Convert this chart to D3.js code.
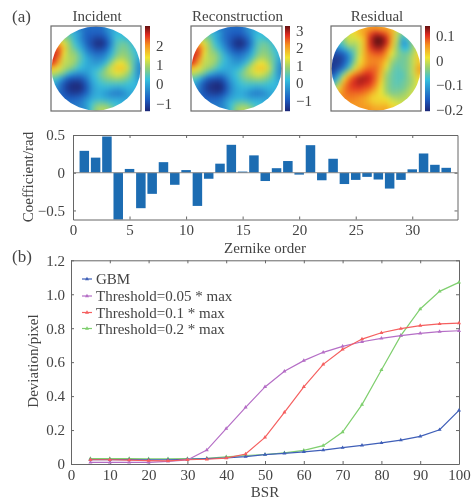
<!DOCTYPE html>
<html><head><meta charset="utf-8">
<script src="https://cdn.jsdelivr.net/npm/d3@7"></script>
<style>html,body{margin:0;padding:0;background:#fff}svg{display:block;filter:blur(.35px)}
text{font-family:"Liberation Serif",serif;fill:#444}</style></head><body>
<script>
const incidentGrid=[
[-.3,-.3,-.3,-.4,-.4,-.5,-.6,-.7,-.7,-.7,-.3,-.1,0,0,0,0,0],
[.8,.8,.6,.4,.1,-.2,-.7,-.8,-.8,-.8,-.5,-.1,.2,.2,.1,0,0],
[1.5,1.2,.8,.6,.1,-.3,-.7,-.9,-1.1,-1.1,-.8,-.2,.3,.3,.1,.1,0],
[2,1.8,1.3,.8,.3,-.1,-.6,-1,-1.3,-1.4,-1,-.3,.4,.6,.5,.1,.1],
[2.3,2.3,1.6,.9,.5,.1,-.4,-.8,-1.1,-1.1,-.8,-.1,.5,.7,.6,.3,.1],
[2.6,2.4,1.4,.9,.8,.4,-.1,-.5,-.7,-.7,-.4,.1,.6,.8,.7,.4,.1],
[2.6,2.1,1.2,1,.9,.5,.1,-.2,-.4,-.4,-.1,.4,.9,1,.8,.5,0],
[2.4,1.8,1.1,1,.8,.4,.1,-.1,-.2,-.1,.3,.9,1.3,1.4,1,.5,-.2],
[1.6,1.3,1,.8,.5,.2,0,0,.1,.3,.8,1.2,1.6,1.6,1.2,.5,-.3],
[1.1,.9,.6,.1,-.2,-.3,-.2,0,.3,.6,.9,1.1,1.3,1.2,.9,.4,-.3],
[.5,.2,-.4,-.8,-.9,-.9,-.6,-.1,.2,.5,.7,.8,.9,.8,.6,.3,-.2],
[.1,-.4,-.9,-1.2,-1.35,-1.3,-.9,-.3,.1,.3,.4,.4,.4,.4,.3,.2,0],
[-.2,-.5,-1,-1.3,-1.5,-1.4,-1,-.4,0,.1,.1,0,-.1,0,.1,.1,.1],
[-.5,-.7,-.9,-1.1,-1.2,-1.1,-.8,-.3,0,0,-.2,-.4,-.5,-.4,-.1,0,0],
[-.6,-.7,-.8,-.8,-.8,-.7,-.4,-.1,.1,.1,0,-.1,-.1,-.1,-.1,0,0],
[-.6,-.6,-.6,-.6,-.6,-.5,-.2,.2,.5,.6,.5,.3,.2,.1,0,0,0],
[-.5,-.5,-.5,-.5,-.5,-.4,-.3,.3,.8,1,1,.7,.3,.1,0,0,0]];
const reconstructionGrid=[
[-.38,-.38,-.38,-.49,-.49,-.6,-.71,-.82,-.82,-.82,-.38,-.16,-.05,-.05,-.05,-.05,-.05],
[.84,.84,.61,.39,.06,-.27,-.82,-.94,-.94,-.94,-.6,-.16,.17,.17,.06,-.05,-.05],
[1.61,1.28,.84,.61,.06,-.38,-.82,-1.05,-1.27,-1.27,-.94,-.27,.28,.28,.06,.06,-.05],
[2.16,1.94,1.39,.84,.28,-.16,-.71,-1.16,-1.49,-1.6,-1.16,-.38,.39,.61,.5,.06,.06],
[2.5,2.5,1.72,.95,.5,.06,-.49,-.94,-1.27,-1.27,-.94,-.16,.5,.72,.61,.28,.06],
[2.83,2.61,1.5,.95,.84,.39,-.16,-.6,-.82,-.82,-.49,.06,.61,.84,.72,.39,.06],
[2.83,2.27,1.28,1.06,.95,.5,.06,-.27,-.49,-.49,-.16,.39,.95,1.06,.84,.5,-.05],
[2.61,1.94,1.17,1.06,.84,.39,.06,-.16,-.27,-.16,.28,.95,1.39,1.5,1.06,.5,-.27],
[1.72,1.39,1.06,.84,.5,.17,-.05,-.05,.06,.28,.84,1.28,1.72,1.72,1.28,.5,-.38],
[1.17,.95,.61,.06,-.27,-.38,-.27,-.05,.28,.61,.95,1.17,1.39,1.28,.95,.39,-.38],
[.5,.17,-.49,-.94,-1.05,-1.05,-.71,-.16,.17,.5,.72,.84,.95,.84,.61,.28,-.27],
[.06,-.49,-1.05,-1.38,-1.54,-1.49,-1.05,-.38,.06,.28,.39,.39,.39,.39,.28,.17,-.05],
[-.27,-.6,-1.16,-1.49,-1.71,-1.6,-1.16,-.49,-.05,.06,.06,-.05,-.16,-.05,.06,.06,.06],
[-.6,-.82,-1.05,-1.27,-1.38,-1.27,-.94,-.38,-.05,-.05,-.27,-.49,-.6,-.49,-.16,-.05,-.05],
[-.71,-.82,-.94,-.94,-.94,-.82,-.49,-.16,.06,.06,-.05,-.16,-.16,-.16,-.16,-.05,-.05],
[-.71,-.71,-.71,-.71,-.71,-.6,-.27,.17,.5,.61,.5,.28,.17,.06,-.05,-.05,-.05],
[-.6,-.6,-.6,-.6,-.6,-.49,-.38,.28,.84,1.06,1.06,.72,.28,.06,-.05,-.05,-.05]];
const residualGrid=[
[0,0,.01,.01,.02,.04,.05,.06,.06,.05,.05,.04,.02,0,-.02,-.02,-.02],
[-.03,-.03,-.02,0,.02,.04,.06,.09,.11,.1,.08,.05,-.01,-.05,-.05,-.03,-.03],
[-.06,-.05,-.03,0,0,.02,.05,.11,.14,.14,.11,.05,-.01,-.09,-.06,-.04,-.03],
[-.1,-.08,-.05,-.01,-.02,0,.05,.11,.145,.145,.11,.04,-.02,-.11,-.1,-.03,-.02],
[-.14,-.12,-.09,-.05,-.04,0,.05,.1,.12,.12,.08,.03,-.03,-.08,-.08,-.03,0],
[-.17,-.17,-.15,-.1,-.05,0,.05,.08,.09,.09,.06,.01,-.03,-.05,-.05,-.02,.02],
[-.19,-.19,-.17,-.12,-.05,.01,.05,.07,.07,.07,.04,-.01,-.04,-.05,-.04,-.01,.03],
[-.19,-.19,-.16,-.1,-.03,.02,.05,.07,.07,.06,.02,-.03,-.05,-.05,-.04,-.01,.03],
[-.19,-.17,-.13,-.06,0,.04,.07,.08,.08,.05,0,-.04,-.06,-.05,-.04,-.01,.05],
[-.17,-.12,-.05,.02,.06,.08,.1,.1,.08,.04,-.02,-.05,-.06,-.06,-.04,-.01,.04],
[-.13,-.07,.02,.07,.1,.12,.12,.11,.08,.03,-.03,-.05,-.06,-.06,-.04,-.02,.02],
[-.09,-.02,.05,.09,.11,.12,.11,.1,.07,.02,-.03,-.05,-.06,-.05,-.04,-.02,.01],
[-.03,.02,.07,.09,.1,.1,.09,.08,.05,.01,-.03,-.05,-.05,-.05,-.03,-.01,0],
[.04,.05,.07,.08,.08,.08,.07,.05,.03,.01,-.02,-.04,-.04,-.03,-.02,0,0],
[.06,.06,.07,.07,.07,.06,.05,.03,.02,.02,.01,-.01,-.02,-.02,-.01,0,0],
[.06,.06,.06,.06,.06,.06,.05,.04,.03,.03,.03,.01,0,0,0,0,0],
[.06,.06,.06,.06,.06,.06,.06,.06,.05,.05,.05,.03,.02,0,0,0,0]];

const mapTitles=["Incident","Reconstruction","Residual"];
const mapDomains=[[-1.4,3],[-1.6,3.27],[-0.205,0.14]];
const mapTicks=[[-1,0,1,2],[-1,0,1,2,3],[-0.2,-0.1,0,0.1]];

const zernikeOrder=d3.range(1,34);
const coefficients=[0.29,0.2,0.48,-0.65,0.05,-0.47,-0.28,0.14,-0.16,0.035,-0.44,-0.08,0.12,0.37,0.015,0.23,-0.11,0.06,0.155,-0.025,0.365,-0.1,0.185,-0.15,-0.095,-0.055,-0.09,-0.21,-0.095,0.045,0.255,0.105,0.065];

const bsr=[5,10,15,20,25,30,35,40,45,50,55,60,65,70,75,80,85,90,95,100];
const gbm=[0.026,0.026,0.026,0.025,0.025,0.028,0.032,0.036,0.044,0.055,0.063,0.072,0.082,0.096,0.11,0.124,0.141,0.163,0.202,0.316];
const thr005=[0.01,0.01,0.01,0.01,0.015,0.024,0.082,0.208,0.334,0.454,0.546,0.609,0.658,0.693,0.72,0.74,0.756,0.77,0.78,0.785];
const thr01=[0.025,0.025,0.023,0.02,0.018,0.025,0.028,0.035,0.059,0.157,0.304,0.455,0.587,0.675,0.736,0.773,0.797,0.815,0.825,0.83];
const thr02=[0.032,0.032,0.032,0.03,0.03,0.032,0.034,0.042,0.05,0.056,0.066,0.08,0.108,0.188,0.35,0.554,0.756,0.913,1.017,1.07];
const seriesNames=["GBM","Threshold=0.05 * max","Threshold=0.1 * max","Threshold=0.2 * max"];
const seriesColors=["#3f5fb8","#b56ec6","#f55f5f","#7fcf6e"];
const seriesValues=[gbm,thr005,thr01,thr02];

const W=474,H=501,AX="#666",FS=15;
const minus=s=>String(s).replace("-","\u2212");
const svg=d3.select("body").append("svg").attr("width",W).attr("height",H);
const defs=svg.append("defs");
defs.append("filter").attr("id","soft").attr("x","-30%").attr("y","-30%").attr("width","160%").attr("height","160%")
  .attr("color-interpolation-filters","sRGB").append("feGaussianBlur").attr("stdDeviation",2.6);
const jet=d3.scaleLinear().domain([0,.13,.37,.5,.63,.78,.9,1])
  .range(["#1c2a7c","#1c5cc0","#36c0de","#92cf78","#f0e632","#f59020","#e02a20","#6a1212"]).clamp(true);

function styleAxis(g){g.selectAll("path,line").attr("stroke",AX).attr("stroke-width",1);
  g.selectAll("text").attr("font-size",FS).attr("font-family","Liberation Serif").attr("fill","#444");}

const boxes=[[51,141],[191,282],[331,421]],bars=[[145,150],[285,290],[425,430]];
const boxT=26,boxB=111;
[incidentGrid,reconstructionGrid,residualGrid].forEach((grid,k)=>{
  const [x0,x1]=boxes[k],[c0,c1]=bars[k];
  const n=grid.length;
  const color=v=>jet((v-mapDomains[k][0])/(mapDomains[k][1]-mapDomains[k][0]));
  const sx=d3.scaleBand().domain(d3.range(n)).range([x0,x1]);
  const sy=d3.scaleBand().domain(d3.range(n)).range([boxT,boxB]);
  const cid="clip"+k;
  defs.append("clipPath").attr("id",cid).append("ellipse")
    .attr("cx",(x0+x1)/2).attr("cy",(boxT+boxB)/2).attr("rx",(x1-x0)/2-.5).attr("ry",(boxB-boxT)/2-.5);
  const outer=svg.append("g").attr("clip-path",`url(#${cid})`);
  const cells=outer.append("g").attr("filter","url(#soft)");
  const pad=14;
  grid.forEach((row,i)=>row.forEach((v,j)=>{
    cells.append("rect")
      .attr("x",sx(j)-(j==0?pad:0)-.2).attr("y",sy(i)-(i==0?pad:0)-.2)
      .attr("width",sx.bandwidth()+(j==0||j==n-1?pad:0)+.4).attr("height",sy.bandwidth()+(i==0||i==n-1?pad:0)+.4)
      .attr("fill",color(v));
  }));
  svg.append("rect").attr("x",x0).attr("y",boxT).attr("width",x1-x0).attr("height",boxB-boxT)
    .attr("fill","none").attr("stroke","#6a6a6a").attr("stroke-width",1.2);
  svg.append("text").attr("x",(x0+x1)/2+1).attr("y",21).attr("text-anchor","middle").attr("font-size",FS).text(mapTitles[k]);
  const cs=d3.scaleLinear().domain(mapDomains[k]).range([boxB,boxT]);
  d3.range(0,85).forEach(i=>{
    svg.append("rect").attr("x",c0).attr("width",c1-c0).attr("y",boxT+i).attr("height",1.2)
      .attr("fill",jet(1-i/84));
  });
  const ax=svg.append("g").attr("transform",`translate(${c1},0)`)
    .call(d3.axisRight(cs).tickValues(mapTicks[k]).tickSize(0).tickPadding(6).tickFormat(minus));
  ax.select("path").remove();
  styleAxis(ax);
});

svg.append("text").attr("x",12).attr("y",22).attr("font-size",17).text("(a)");
svg.append("text").attr("x",12).attr("y",262).attr("font-size",17).text("(b)");

/* bar panel */
const bL=73,bR=457.5,bT=135,bB=219.5;
const bx=d3.scaleLinear().domain([0,34]).range([bL,bR]);
const by=d3.scaleLinear().domain([-0.62,0.5]).range([bB,bT]);
const bw=bx(0.84)-bx(0);
defs.append("clipPath").attr("id","barclip").append("rect").attr("x",bL).attr("y",bT).attr("width",bR-bL).attr("height",bB-bT);
svg.append("g").attr("clip-path","url(#barclip)").selectAll("rect").data(coefficients).join("rect")
  .attr("x",(d,i)=>bx(zernikeOrder[i])-bw/2).attr("width",bw)
  .attr("y",d=>by(Math.max(d,0))).attr("height",d=>Math.abs(by(d)-by(0)))
  .attr("fill","#1c6cb2");
svg.append("line").attr("x1",bL).attr("x2",bR).attr("y1",by(0)).attr("y2",by(0)).attr("stroke","#8a8a8a").attr("stroke-width",1);
const bTicksX=[0,5,10,15,20,25,30],bTicksY=[-0.5,0,0.5];
let a=svg.append("g").attr("transform",`translate(0,${bB})`).call(d3.axisBottom(bx).tickValues(bTicksX).tickSizeInner(-3).tickSizeOuter(0).tickPadding(5));styleAxis(a);
a=svg.append("g").attr("transform",`translate(0,${bT})`).call(d3.axisTop(bx).tickValues(bTicksX).tickSizeInner(-3).tickSizeOuter(0).tickFormat(""));styleAxis(a);
a=svg.append("g").attr("transform",`translate(${bL},0)`).call(d3.axisLeft(by).tickValues(bTicksY).tickSizeInner(-3).tickSizeOuter(0).tickPadding(8).tickFormat(minus));styleAxis(a);
a=svg.append("g").attr("transform",`translate(${bR},0)`).call(d3.axisRight(by).tickValues(bTicksY).tickSizeInner(-3).tickSizeOuter(0).tickFormat(""));styleAxis(a);
svg.append("text").attr("x",265).attr("y",253).attr("text-anchor","middle").attr("font-size",FS).text("Zernike order");
svg.append("text").attr("transform","translate(33,177) rotate(-90)").attr("text-anchor","middle").attr("font-size",FS).text("Coefficient/rad");

/* line panel */
const lL=71,lR=459,lT=260.3,lB=464;
const lx=d3.scaleLinear().domain([0,100]).range([lL,lR]);
const ly=d3.scaleLinear().domain([0,1.2]).range([lB,lT]);
const lTicksX=d3.range(0,101,10),lTicksY=[0,0.2,0.4,0.6,0.8,1,1.2];
const fmtY=d=>d==0?"0":d3.format(".1f")(d);
a=svg.append("g").attr("transform",`translate(0,${lB})`).call(d3.axisBottom(lx).tickValues(lTicksX).tickSizeInner(-3).tickSizeOuter(0).tickPadding(5));styleAxis(a);
a=svg.append("g").attr("transform",`translate(0,${lT})`).call(d3.axisTop(lx).tickValues(lTicksX).tickSizeInner(-3).tickSizeOuter(0).tickFormat(""));styleAxis(a);
a=svg.append("g").attr("transform",`translate(${lL},0)`).call(d3.axisLeft(ly).tickValues(lTicksY).tickSizeInner(-3).tickSizeOuter(0).tickPadding(6).tickFormat(fmtY));styleAxis(a);
a=svg.append("g").attr("transform",`translate(${lR},0)`).call(d3.axisRight(ly).tickValues(lTicksY).tickSizeInner(-3).tickSizeOuter(0).tickFormat(""));styleAxis(a);
const line=d3.line().x((d,i)=>lx(bsr[i])).y(d=>ly(d));
const tri=d3.symbol().type(d3.symbolTriangle).size(7);
[3,0,1,2].forEach(k=>{
  const g=svg.append("g");
  g.append("path").attr("d",line(seriesValues[k])).attr("fill","none").attr("stroke",seriesColors[k]).attr("stroke-width",1.2);
  g.selectAll("path.m").data(seriesValues[k]).join("path").attr("class","m").attr("d",tri)
    .attr("transform",(d,i)=>`translate(${lx(bsr[i])},${ly(d)})`).attr("fill",seriesColors[k]);
});
const legY=[279,296,312.5,328.5];
seriesNames.forEach((n,k)=>{
  svg.append("line").attr("x1",82).attr("x2",92).attr("y1",legY[k]).attr("y2",legY[k]).attr("stroke",seriesColors[k]).attr("stroke-width",1.2);
  svg.append("path").attr("d",tri).attr("transform",`translate(87,${legY[k]})`).attr("fill",seriesColors[k]);
  svg.append("text").attr("x",96).attr("y",legY[k]+5).attr("font-size",FS).text(n);
});
svg.append("text").attr("x",265).attr("y",497).attr("text-anchor","middle").attr("font-size",FS).text("BSR");
svg.append("text").attr("transform","translate(38,361) rotate(-90)").attr("text-anchor","middle").attr("font-size",FS).text("Deviation/pixel");
</script></body></html>
